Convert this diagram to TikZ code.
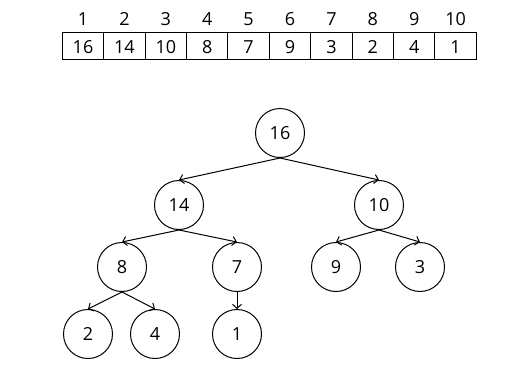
\documentclass[tikz,border=0pt]{standalone}
\usepackage{fontspec}
\setmainfont{Open Sans}
\usetikzlibrary{arrows.meta, positioning}

\begin{document}
\begin{tikzpicture}[
        x=0.5pt, y=-0.5pt,
        every node/.style={font=\fontsize{9}{11}\selectfont},
        cell/.style={rectangle, draw, line width=0.5pt, minimum width=20.7pt, minimum height=13.5pt, inner sep=0pt, text height=8.2pt, text depth=0pt},
        idx/.style={inner sep=0pt},
        heapnode/.style={circle, draw, line width=0.5pt, minimum size=24.5pt, inner sep=0pt},
        arrow/.style={-{Straight Barb[length=2pt, width=4.5pt]}, line width=0.5pt}
        ]
        \useasboundingbox (0,0) rectangle (524,375);

        % array with indices
        \foreach \v [count=\i] in {16,14,10,8,7,9,3,2,4,1} {
            \node[cell] (cell\i) at ({62.3+41.4*(\i-0.5)}, 45.5) {\v};
            \node[idx] (idx\i) at ({62.3+41.4*(\i-0.5)}, 19) {\i};
        }

        % heap as a tree
        \node[heapnode] (n16) at (280, 133) {16};
        \node[heapnode] (n14) at (179, 205) {14};
        \node[heapnode] (n10) at (379, 205) {10};
        \node[heapnode] (n8) at (122, 267) {8};
        \node[heapnode] (n7) at (237, 267) {7};
        \node[heapnode] (n9) at (336, 267) {9};
        \node[heapnode] (n3) at (420, 267) {3};
        \node[heapnode] (n2) at (88, 334) {2};
        \node[heapnode] (n4) at (155, 334) {4};
        \node[heapnode] (n1) at (237, 334) {1};

        \draw[arrow] (n16.south) -- (n14.north);
        \draw[arrow] (n16.south) -- (n10.north);
        \draw[arrow] (n14.south) -- (n8.north);
        \draw[arrow] (n14.south) -- (n7.north);
        \draw[arrow] (n10.south) -- (n9.north);
        \draw[arrow] (n10.south) -- (n3.north);
        \draw[arrow] (n8.south) -- (n2.north);
        \draw[arrow] (n8.south) -- (n4.north);
        \draw[arrow] (n7.south) -- (n1.north);
    \end{tikzpicture}
\end{document}
